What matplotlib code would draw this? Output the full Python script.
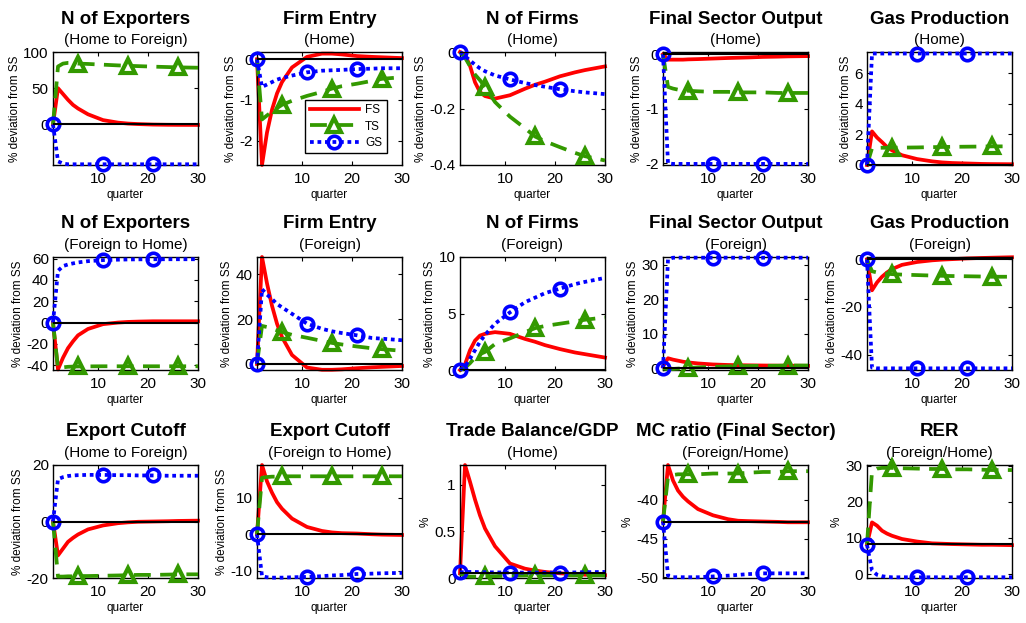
import numpy as np
import matplotlib
matplotlib.use('Agg')
import matplotlib.pyplot as plt
from matplotlib.lines import Line2D
from matplotlib.transforms import offset_copy

plt.rcParams['font.family'] = 'Liberation Sans'

quarters = [1, 2, 3, 4, 5, 6, 8, 11, 14, 16, 18, 21, 24, 26, 30]
gs_marks = [0, 7, 11]   # quarters 1, 11, 21
ts_marks = [5, 9, 13]   # quarters 6, 16, 26

titles = ['N of Exporters', 'Firm Entry', 'N of Firms', 'Final Sector Output', 'Gas Production',
          'N of Exporters', 'Firm Entry', 'N of Firms', 'Final Sector Output', 'Gas Production',
          'Export Cutoff', 'Export Cutoff', 'Trade Balance/GDP', 'MC ratio (Final Sector)', 'RER']
subtitles = ['(Home to Foreign)', '(Home)', '(Home)', '(Home)', '(Home)',
             '(Foreign to Home)', '(Foreign)', '(Foreign)', '(Foreign)', '(Foreign)',
             '(Home to Foreign)', '(Foreign to Home)', '(Home)', '(Foreign/Home)', '(Foreign/Home)']

# row 1
exp_hf_fs = [0, 50, 42, 34, 27, 22, 14, 6, 2.5, 1.2, 0.5, -0.2, -0.5, -0.6, -0.7]
exp_hf_ts = [0, 80, 84, 85, 85, 84, 83.5, 82.5, 81.5, 81, 80.5, 79.8, 79.2, 78.8, 78.3]
exp_hf_gs = [0, -51, -54, -55, -55, -55, -55, -55, -55, -55, -55, -55, -55, -55, -55]

entry_h_fs = [0, -2.6, -1.8, -1.24, -0.84, -0.56, -0.2, 0.06, 0.14, 0.14, 0.12, 0.08, 0.06, 0.05, 0.03]
entry_h_ts = [0, -1.48, -1.38, -1.29, -1.2, -1.12, -1.02, -0.9, -0.8, -0.72, -0.66, -0.6, -0.53, -0.48, -0.44]
entry_h_gs = [0, -0.68, -0.62, -0.56, -0.5, -0.46, -0.4, -0.32, -0.28, -0.27, -0.26, -0.24, -0.23, -0.22, -0.22]

firms_h_fs = [0, -0.01, -0.049, -0.107, -0.142, -0.156, -0.165, -0.153, -0.13, -0.116, -0.105, -0.086, -0.072, -0.064, -0.051]
firms_h_ts = [0, -0.02, -0.05, -0.08, -0.1, -0.124, -0.177, -0.229, -0.27, -0.299, -0.316, -0.337, -0.357, -0.369, -0.384]
firms_h_gs = [0, -0.015, -0.03, -0.045, -0.058, -0.068, -0.083, -0.097, -0.11, -0.117, -0.123, -0.132, -0.139, -0.143, -0.149]

output_h_fs = [0, -0.1, -0.1, -0.1, -0.1, -0.095, -0.09, -0.08, -0.07, -0.065, -0.06, -0.05, -0.045, -0.04, -0.035]
output_h_ts = [0, -0.6, -0.63, -0.65, -0.66, -0.67, -0.68, -0.69, -0.69, -0.7, -0.7, -0.7, -0.71, -0.71, -0.71]
output_h_gs = [0, -2.0, -2.01, -2.01, -2.01, -2.01, -2.01, -2.01, -2.01, -2.01, -2.01, -2.01, -2.01, -2.01, -2.01]

gas_h_fs = [0, 2.2, 1.8, 1.5, 1.18, 0.96, 0.64, 0.39, 0.24, 0.17, 0.13, 0.1, 0.07, 0.06, 0.05]
gas_h_ts = [0, 1.1, 1.12, 1.13, 1.13, 1.13, 1.14, 1.15, 1.17, 1.18, 1.19, 1.2, 1.21, 1.22, 1.22]
gas_h_gs = [0, 7.3, 7.3, 7.3, 7.3, 7.3, 7.3, 7.3, 7.3, 7.3, 7.3, 7.3, 7.3, 7.3, 7.3]

# row 2
exp_fh_fs = [0, -44, -33, -24, -17.6, -12, -6, -1.5, 0, 0.6, 0.9, 1.2, 1.2, 1.2, 1.2]
exp_fh_ts = [0, -43, -42, -41.5, -41.3, -41.2, -41.1, -41, -41, -41, -41, -41, -41, -41, -41]
exp_fh_gs = [0, 48.5, 53, 54.5, 55.5, 56.4, 57.6, 58.6, 59, 59.2, 59.3, 59.4, 59.4, 59.4, 59.4]

entry_f_fs = [0, 47.8, 36, 26, 18, 12, 4, -1.6, -2.6, -2.6, -2.4, -1.9, -1.5, -1.3, -0.9]
entry_f_ts = [0, 17, 16.5, 15.8, 15, 14.3, 13, 11.7, 10.3, 9.4, 8.7, 7.8, 7, 6.6, 5.9]
entry_f_gs = [0, 33.4, 31, 29, 26.8, 25.3, 22.4, 18, 15.7, 14.6, 13.8, 12.8, 11.6, 11.3, 10.6]

firms_f_fs = [0, 0.5, 1.75, 2.6, 3.05, 3.2, 3.35, 3.2, 2.75, 2.5, 2.2, 1.85, 1.55, 1.4, 1.1]
firms_f_ts = [0, 0.2, 0.6, 1.1, 1.4, 1.6, 2.3, 2.8, 3.35, 3.7, 3.9, 4.1, 4.3, 4.45, 4.65]
firms_f_gs = [0, 0.3, 1.0, 1.75, 2.5, 3.1, 4.1, 5.1, 6.0, 6.4, 6.8, 7.2, 7.6, 7.8, 8.15]

output_f_fs = [0.5, 2.9, 2.5, 2.2, 1.9, 1.7, 1.4, 1.1, 0.95, 0.9, 0.85, 0.8, 0.75, 0.75, 0.7]
output_f_ts = [0, -0.3, -0.2, -0.1, 0, 0.1, 0.25, 0.4, 0.55, 0.6, 0.65, 0.7, 0.75, 0.8, 0.8]
output_f_gs = [0, 31.5, 32, 32, 32, 32, 32, 32, 32, 32, 32, 32, 32, 32, 32]

gas_f_fs = [0, -13, -9.7, -7.3, -5.5, -4.1, -2.3, -1.1, -0.4, -0.1, 0.1, 0.4, 0.6, 0.7, 0.9]
gas_f_ts = [0, -5, -5.5, -5.8, -6, -6.2, -6.4, -6.6, -6.8, -6.9, -7, -7.1, -7.2, -7.3, -7.3]
gas_f_gs = [0, -45.5, -45.8, -45.8, -45.8, -45.8, -45.8, -45.8, -45.8, -45.8, -45.8, -45.8, -45.8, -45.8, -45.8]

# row 3
cut_hf_fs = [0, -12, -9.6, -7.2, -5.8, -4.6, -2.8, -1.4, -0.6, -0.3, -0.1, 0, 0.1, 0.2, 0.3]
cut_hf_ts = [0, -19.5, -19.5, -19.4, -19.4, -19.3, -19.3, -19.2, -19.1, -19, -18.9, -18.9, -18.8, -18.7, -18.7]
cut_hf_gs = [0, 15, 15.7, 16.1, 16.3, 16.4, 16.5, 16.5, 16.4, 16.4, 16.3, 16.3, 16.2, 16.2, 16.2]

cut_fh_fs = [0, 19, 14.5, 11.4, 8.8, 7, 4.3, 2, 0.9, 0.5, 0.3, 0.2, 0, -0.1, -0.2]
cut_fh_ts = [0, 15.5, 15.7, 15.8, 15.8, 15.9, 15.9, 15.9, 15.9, 15.9, 15.9, 15.9, 15.9, 15.9, 15.9]
cut_fh_gs = [0, -11.5, -11.8, -11.9, -11.9, -11.9, -11.8, -11.7, -11.5, -11.3, -11.2, -10.9, -10.8, -10.7, -10.6]

tb_fs = [0.05, 1.21, 1.03, 0.84, 0.67, 0.53, 0.34, 0.155, 0.1, 0.08, 0.065, 0.05, 0.04, 0.035, 0.03]
tb_ts = [0.05, 0.02, 0.015, 0.015, 0.016, 0.017, 0.02, 0.024, 0.027, 0.028, 0.028, 0.028, 0.028, 0.028, 0.028]
tb_gs = [0.06, 0.065, 0.065, 0.064, 0.063, 0.062, 0.06, 0.058, 0.058, 0.058, 0.058, 0.058, 0.06, 0.062, 0.065]

mc_fs = [-42.8, -35.5, -37.5, -38.8, -39.6, -40.2, -41.2, -42, -42.5, -42.7, -42.75, -42.8, -42.85, -42.9, -42.9]
mc_ts = [-42.8, -37, -36.8, -36.7, -36.7, -36.7, -36.7, -36.6, -36.6, -36.6, -36.5, -36.4, -36.4, -36.3, -36.3]
mc_gs = [-42.8, -49.8, -50, -50, -50, -50, -50, -49.9, -49.8, -49.7, -49.6, -49.5, -49.5, -49.5, -49.5]

rer_fs = [8.2, 14.3, 13.4, 12, 11.2, 10.6, 9.7, 9, 8.5, 8.4, 8.3, 8.2, 8.1, 8.1, 8.0]
rer_ts = [8.2, 28.5, 29.2, 29.4, 29.4, 29.4, 29.3, 29.2, 29.1, 29.1, 29, 29, 28.9, 28.8, 28.8]
rer_gs = [8.1, 1.0, -0.2, -0.6, -0.8, -0.9, -0.9, -0.9, -0.9, -0.9, -0.9, -0.9, -0.9, -0.9, -0.9]

fs_all = [exp_hf_fs, entry_h_fs, firms_h_fs, output_h_fs, gas_h_fs,
          exp_fh_fs, entry_f_fs, firms_f_fs, output_f_fs, gas_f_fs,
          cut_hf_fs, cut_fh_fs, tb_fs, mc_fs, rer_fs]
ts_all = [exp_hf_ts, entry_h_ts, firms_h_ts, output_h_ts, gas_h_ts,
          exp_fh_ts, entry_f_ts, firms_f_ts, output_f_ts, gas_f_ts,
          cut_hf_ts, cut_fh_ts, tb_ts, mc_ts, rer_ts]
gs_all = [exp_hf_gs, entry_h_gs, firms_h_gs, output_h_gs, gas_h_gs,
          exp_fh_gs, entry_f_gs, firms_f_gs, output_f_gs, gas_f_gs,
          cut_hf_gs, cut_fh_gs, tb_gs, mc_gs, rer_gs]
steady = [0, 0, 0, 0, 0, 0, 0, 0, 0, 0, 0, 0, 0.055, -42.8, 8.2]

ylims = [(-56, 100), (-2.6, 0.18), (-0.4, 0), (-2.03, 0.04), (0, 7.4),
         (-44.5, 61.5), (-2.7, 47.8), (0, 10), (-0.5, 32.2), (-46.5, 1),
         (-20, 20), (-12, 19), (0, 1.21), (-50.1, -35.5), (-1.1, 30.2)]
yticks = [[0, 50, 100], [-2, -1, 0], [-0.4, -0.2, 0], [-2, -1, 0], [0, 2, 4, 6],
          [-40, -20, 0, 20, 40, 60], [0, 20, 40], [0, 5, 10], [0, 10, 20, 30], [-40, -20, 0],
          [-20, 0, 20], [-10, 0, 10], [0, 0.5, 1], [-50, -45, -40], [0, 10, 20, 30]]
ylabels = ['% deviation from SS'] * 12 + ['%'] * 3

W, H = 1026, 623
col_left = [53, 257, 460, 663, 867]
row_top = [52, 257, 465]
ax_w, ax_h = 145, 113

red = '#ff0000'
green = '#339900'
blue = '#0000ff'
lw = 2.7

fig = plt.figure(figsize=(W / 100, H / 100), dpi=100)

for i in range(15):
    r, c = divmod(i, 5)
    ax = fig.add_axes([col_left[c] / W, (H - row_top[r] - ax_h) / H, ax_w / W, ax_h / H])
    ax.plot(quarters, fs_all[i], color=red, lw=lw, clip_on=False, zorder=2)
    ax.plot(quarters, ts_all[i], color=green, lw=lw, dashes=(4.5, 2.5),
            marker='^', ms=10, mfc='none', mew=3, markevery=ts_marks, clip_on=False, zorder=3)
    ax.plot(quarters, gs_all[i], color=blue, lw=lw, dashes=(1, 1),
            marker='o', ms=9, mfc='none', mew=2.6, markevery=gs_marks, clip_on=False, zorder=3)
    ax.axhline(steady[i], color='black', lw=1.5, zorder=4)

    ax.set_xlim(1, 30)
    ax.set_ylim(*ylims[i])
    ax.set_xticks([10, 20, 30])
    ax.set_yticks(yticks[i])
    ax.set_yticklabels([f'{v:g}' for v in yticks[i]])
    ax.tick_params(direction='in', top=True, right=True, length=3, labelsize=11, pad=3)
    ax.tick_params(axis='x', pad=5)
    for s in ax.spines.values():
        s.set_linewidth(1)
    ax.set_xlabel('quarter', fontsize=8.5, labelpad=2)
    ax.set_ylabel(ylabels[i], fontsize=8.5, labelpad=2)

    t1 = offset_copy(ax.transAxes, fig=fig, y=33, units='dots')
    t2 = offset_copy(ax.transAxes, fig=fig, y=12, units='dots')
    ax.text(0.5, 1, titles[i], transform=t1, ha='center', va='center',
            fontsize=13.5, fontweight='bold')
    ax.text(0.5, 1, subtitles[i], transform=t2, ha='center', va='center', fontsize=11)

    if i == 1:
        handles = [Line2D([], [], color=red, lw=lw),
                   Line2D([], [], color=green, lw=lw, dashes=(4.5, 2.5), marker='^',
                          ms=10, mfc='none', mew=3),
                   Line2D([], [], color=blue, lw=lw, dashes=(1, 1), marker='o',
                          ms=9, mfc='none', mew=2.6)]
        leg = ax.legend(handles, ['FS', 'TS', 'GS'], loc='lower left',
                        bbox_to_anchor=(0.29, 0.05), fontsize=8.5, handlelength=4.2,
                        numpoints=1, fancybox=False, edgecolor='black', framealpha=1,
                        borderpad=0.4, labelspacing=0.35, handletextpad=0.5)
        leg.get_frame().set_linewidth(1)
        leg.set_zorder(10)

fig.savefig('out.png', dpi=100)
